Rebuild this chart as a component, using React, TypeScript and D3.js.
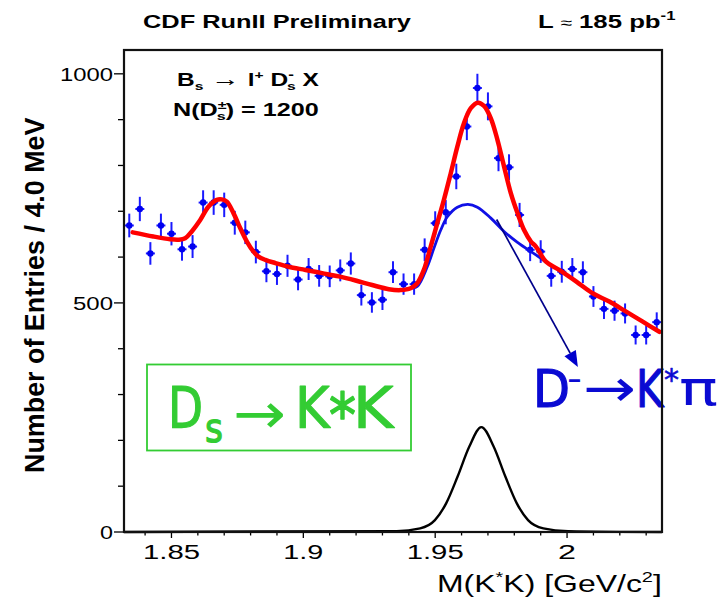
import React, { useEffect, useRef } from 'react';
import * as d3 from 'd3';

const W = 725;
const H = 598;
const FONT = "'Liberation Sans', Arial, Helvetica, sans-serif";
const HAND = "'Comic Sans MS', 'DejaVu Sans', sans-serif";

// histogram: M(K*K) bin centres (GeV/c^2), 4 MeV bins, entries per bin
const massBins = [
  1.834, 1.838, 1.842, 1.846, 1.850, 1.854, 1.858, 1.862, 1.866, 1.870,
  1.874, 1.878, 1.882, 1.886, 1.890, 1.894, 1.898, 1.902, 1.906, 1.910,
  1.914, 1.918, 1.922, 1.926, 1.930, 1.934, 1.938, 1.942, 1.946, 1.950,
  1.954, 1.958, 1.962, 1.966, 1.970, 1.974, 1.978, 1.982, 1.986, 1.990,
  1.994, 1.998, 2.002, 2.006, 2.010, 2.014, 2.018, 2.022, 2.026, 2.030,
  2.034,
];
const entries = [
  669, 705, 608, 669, 651, 617, 623, 719, 719, 714,
  675, 654, 611, 569, 563, 581, 551, 574, 559, 558,
  571, 586, 517, 501, 507, 567, 541, 541, 616, 674,
  698, 776, 885, 969, 929, 816, 796, 692, 616, 612,
  559, 568, 574, 567, 514, 487, 483, 477, 430, 430,
  458,
];

// total fit (red)
const fitMass = [
  1.8353, 1.8431, 1.8495, 1.8526, 1.8552, 1.8577, 1.8609, 1.8640, 1.8672, 1.8691,
  1.8710, 1.8735, 1.8761, 1.8786, 1.8811, 1.8830, 1.8856, 1.8894, 1.8944, 1.9008,
  1.9071, 1.9134, 1.9198, 1.9261, 1.9324, 1.9369, 1.9407, 1.9432, 1.9457, 1.9483,
  1.9508, 1.9533, 1.9559, 1.9584, 1.9609, 1.9635, 1.9662, 1.9685, 1.9711, 1.9736,
  1.9761, 1.9787, 1.9812, 1.9837, 1.9863, 1.9882, 1.9920, 1.9970, 2.0034, 2.0097,
  2.0160, 2.0224, 2.0287, 2.0350,
];
const fitValue = [
  654, 645, 639, 638, 641, 656, 681, 710, 725, 726,
  721, 696, 663, 634, 612, 601, 594, 587, 579, 572,
  565, 558, 549, 539, 530, 528, 532, 543, 572, 623,
  674, 725, 783, 841, 892, 925, 937, 930, 903, 856,
  798, 739, 696, 659, 634, 623, 590, 572, 547, 521,
  503, 481, 459, 437,
];

// D- -> K* pi reflection + background (blue)
const reflMass = [
  1.9369, 1.9407, 1.9432, 1.9470, 1.9495, 1.9521, 1.9546, 1.9584,
  1.9624, 1.9660, 1.9711, 1.9761, 1.9812, 1.9863, 1.9882, 1.9920,
];
const reflValue = [
  528, 532, 536, 579, 619, 659, 688, 709,
  715, 709, 685, 656, 632, 612, 605, 589,
];

// Ds -> K*K signal shape (black)
const sigMass = [
  1.832, 1.9354, 1.9443, 1.9499, 1.9542, 1.9585, 1.9629, 1.9675,
  1.9722, 1.9766, 1.9809, 1.9852, 1.9910, 2.0004, 2.036,
];
const sigValue = [0, 2, 8, 26, 63, 121, 186, 229, 186, 121, 63, 26, 8, 2, 0];

const xMajorTicks = [1.85, 1.9, 1.95, 2.0];
const xTickLabels = ['1.85', '1.9', '1.95', '2'];
const xMinorTicks = [1.84, 1.86, 1.87, 1.88, 1.89, 1.91, 1.92, 1.93, 1.94, 1.96, 1.97, 1.98, 1.99, 2.01, 2.02, 2.03];
const yMajorTicks = [0, 500, 1000];
const yTickLabels = ['0', '500', '1000'];
const yMinorTicks = [100, 200, 300, 400, 600, 700, 800, 900];

// arrow from the reflection curve to its label, in data coordinates
const arrowFrom = [1.9733, 682];
const arrowTo = [2.0041, 360];

type Part = { t: string; size?: number; dy?: number; dx?: number; weight?: string; family?: string };
type Opt = {
  x: number; y: number; width: number; size: number;
  anchor?: 'start' | 'middle' | 'end'; weight?: string; fill?: string; family?: string;
  rotate?: boolean; thick?: number;
};

// draw text and stretch it horizontally so it spans `width` px, like the scanned ROOT canvas
function fitText(parent: any, parts: Part[], o: Opt) {
  const g = parent.append('g');
  const t = g.append('text')
    .attr('font-family', o.family ?? FONT)
    .attr('font-size', o.size)
    .attr('font-weight', o.weight ?? 'normal')
    .attr('fill', o.fill ?? '#000');
  if (o.thick) t.attr('stroke', o.fill ?? '#000').attr('stroke-width', o.thick).attr('stroke-linejoin', 'round');
  parts.forEach(p => {
    const s = t.append('tspan').text(p.t);
    if (p.size) s.attr('font-size', p.size);
    if (p.dy) s.attr('dy', p.dy);
    if (p.dx) s.attr('dx', p.dx);
    if (p.weight) s.attr('font-weight', p.weight);
    if (p.family) s.attr('font-family', p.family);
  });
  const bb = (t.node() as SVGTextElement).getBBox();
  t.attr('x', -bb.x);
  const sx = o.width / bb.width;
  if (o.rotate) {
    g.attr('transform', `translate(${o.x},${o.y}) rotate(-90) scale(${sx},1)`);
    return;
  }
  const a = o.anchor ?? 'start';
  const x0 = a === 'start' ? o.x : a === 'end' ? o.x - o.width : o.x - o.width / 2;
  g.attr('transform', `translate(${x0},${o.y}) scale(${sx},1)`);
}

export default function App() {
  const ref = useRef<SVGSVGElement>(null);

  useEffect(() => {
    const svg = d3.select(ref.current);
    svg.selectAll('*').remove();

    const left = 124, right = 662, top = 50, bottom = 532;
    const x = d3.scaleLinear().domain([1.832, 2.036]).range([left, right]);
    const y = d3.scaleLinear().domain([0, 1052]).range([bottom, top]);

    svg.append('rect').attr('width', W).attr('height', H).attr('fill', '#fff');

    // ---- data points with sqrt(N) errors
    const pts = svg.append('g');
    massBins.forEach((m, i) => {
      const v = entries[i];
      const e = Math.sqrt(v);
      pts.append('line')
        .attr('x1', x(m)).attr('x2', x(m))
        .attr('y1', y(v - e)).attr('y2', y(v + e))
        .attr('stroke', '#1a1aff').attr('stroke-width', 2);
      pts.append('line')
        .attr('x1', x(m) - 4.5).attr('x2', x(m) + 4.5)
        .attr('y1', y(v)).attr('y2', y(v))
        .attr('stroke', '#1a1aff').attr('stroke-width', 2);
      pts.append('circle')
        .attr('cx', x(m)).attr('cy', y(v)).attr('r', 3.2)
        .attr('fill', '#0000f0');
    });

    const line = (ms: number[], vs: number[], curve: any) =>
      d3.line<number>().x((_, i) => x(ms[i])).y(d => y(d)).curve(curve)(vs);

    svg.append('path')
      .attr('d', line(sigMass, sigValue, d3.curveMonotoneX))
      .attr('fill', 'none').attr('stroke', '#000').attr('stroke-width', 2.4);

    svg.append('path')
      .attr('d', line(reflMass, reflValue, d3.curveCatmullRom))
      .attr('fill', 'none').attr('stroke', '#1010e6').attr('stroke-width', 2.8);

    svg.append('path')
      .attr('d', line(fitMass, fitValue, d3.curveCatmullRom))
      .attr('fill', 'none').attr('stroke', '#ff0000').attr('stroke-width', 4.5)
      .attr('stroke-linecap', 'round');

    // ---- arrow
    const ax1 = x(arrowFrom[0]), ay1 = y(arrowFrom[1]);
    const ax2 = x(arrowTo[0]), ay2 = y(arrowTo[1]);
    const ang = Math.atan2(ay2 - ay1, ax2 - ax1);
    const hl = 16, hw = 6.5;
    const bx = ax2 - hl * Math.cos(ang), by = ay2 - hl * Math.sin(ang);
    svg.append('line')
      .attr('x1', ax1).attr('y1', ay1).attr('x2', bx).attr('y2', by)
      .attr('stroke', '#00008b').attr('stroke-width', 1.7);
    svg.append('path')
      .attr('d', `M${ax2},${ay2}L${bx - hw * Math.sin(ang)},${by + hw * Math.cos(ang)}L${bx + hw * Math.sin(ang)},${by - hw * Math.cos(ang)}Z`)
      .attr('fill', '#0000cc');

    // ---- green label box
    const green = '#33cc33';
    svg.append('rect')
      .attr('x', 147).attr('y', 364.5).attr('width', 264).attr('height', 86)
      .attr('fill', 'none').attr('stroke', green).attr('stroke-width', 1.8);
    fitText(svg, [{ t: 'D' }], { x: 168, y: 428, width: 35, size: 57, fill: green, family: HAND, thick: 1.2 });
    fitText(svg, [{ t: 's' }], { x: 205, y: 442, width: 18, size: 40, fill: green, family: HAND, thick: 1.2 });
    fitText(svg, [{ t: '\u2192' }], { x: 233, y: 433, width: 53, size: 57, fill: green, family: HAND });
    fitText(svg, [{ t: 'K' }], { x: 295, y: 428, width: 36, size: 57, fill: green, family: HAND, thick: 1.2 });
    fitText(svg, [{ t: '*' }], { x: 329, y: 436, width: 27, size: 60, fill: green, family: HAND, thick: 1.5 });
    fitText(svg, [{ t: 'K' }], { x: 353, y: 428, width: 42, size: 57, fill: green, family: HAND, thick: 1.2 });

    // ---- blue reflection label
    const blue = '#0a0ad2';
    fitText(svg, [{ t: 'D' }], { x: 533, y: 407, width: 37, size: 52, fill: blue, family: HAND, thick: 1.2 });
    fitText(svg, [{ t: '-' }], { x: 567, y: 390, width: 15, size: 34, fill: blue, family: HAND });
    fitText(svg, [{ t: '\u2192' }], { x: 583, y: 406, width: 53, size: 52, fill: blue, family: HAND });
    fitText(svg, [{ t: 'K' }], { x: 636, y: 407, width: 29, size: 52, fill: blue, family: HAND, thick: 1.2 });
    fitText(svg, [{ t: '*' }], { x: 664, y: 390, width: 15, size: 30, fill: blue, family: HAND, thick: 0.6 });
    fitText(svg, [{ t: '\u03c0' }], { x: 679, y: 405, width: 39, size: 48, fill: blue, family: "'DejaVu Sans', sans-serif" });

    // ---- frame and ticks
    const ax = svg.append('g').attr('stroke', '#000').attr('stroke-width', 1.3);
    yMajorTicks.forEach(v => ax.append('line').attr('x1', left - 10).attr('x2', left).attr('y1', y(v)).attr('y2', y(v)));
    yMinorTicks.forEach(v => ax.append('line').attr('x1', left - 6).attr('x2', left).attr('y1', y(v)).attr('y2', y(v)));
    xMajorTicks.forEach(m => ax.append('line').attr('x1', x(m)).attr('x2', x(m)).attr('y1', bottom).attr('y2', bottom + 6));
    xMinorTicks.forEach(m => ax.append('line').attr('x1', x(m)).attr('x2', x(m)).attr('y1', bottom).attr('y2', bottom + 3.5));
    svg.append('rect')
      .attr('x', left).attr('y', top).attr('width', right - left).attr('height', bottom - top)
      .attr('fill', 'none').attr('stroke', '#111').attr('stroke-width', 2.2);

    // ---- tick labels
    yMajorTicks.forEach((v, i) => {
      const w = [13, 40, 53][i];
      fitText(svg, [{ t: yTickLabels[i] }], { x: 113, y: y(v) + 6.8, width: w, size: 19, anchor: 'end' });
    });
    xMajorTicks.forEach((m, i) => {
      const w = [57, 40, 57, 18][i];
      fitText(svg, [{ t: xTickLabels[i] }], { x: x(m), y: 559, width: w, size: 20, anchor: 'middle' });
    });

    // ---- axis titles
    fitText(svg,
      [{ t: 'M(K' }, { t: '*', size: 15, dy: -10 }, { t: 'K) [GeV/c', dy: 10 }, { t: '2', size: 15, dy: -10 }, { t: ']', dy: 10 }],
      { x: 437, y: 592, width: 225, size: 24 });
    fitText(svg, [{ t: 'Number of Entries / 4.0 MeV' }],
      { x: 44, y: 473, width: 356, size: 28, weight: 'bold', rotate: true });

    // ---- header and in-plot labels
    fitText(svg, [{ t: 'CDF RunII Preliminary' }], { x: 143, y: 28, width: 269, size: 18.5, weight: 'bold' });
    fitText(svg,
      [{ t: 'L ' }, { t: '\u2248', weight: 'normal', size: 15 }, { t: ' 185 pb' }, { t: '-1', size: 12, dy: -8 }],
      { x: 538, y: 28, width: 138, size: 18.5, weight: 'bold' });
    fitText(svg,
      [{ t: 'B' }, { t: 's', size: 11.5, dy: 4 }, { t: ' \u2192 ', dy: -4, weight: 'normal', size: 21 }, { t: 'l' },
       { t: '+', size: 11.5, dy: -7 }, { t: ' D', dy: 7 }, { t: '-', size: 12.5, dy: -7 },
       { t: 's', size: 11.5, dy: 11, dx: -5 }, { t: ' X', dy: -4 }],
      { x: 177, y: 86, width: 142, size: 18, weight: 'bold' });
    fitText(svg,
      [{ t: 'N(D' }, { t: '\u00b1', size: 11.5, dy: -7 }, { t: 's', size: 11.5, dy: 11, dx: -7 }, { t: ') = 1200', dy: -4 }],
      { x: 173, y: 116, width: 146, size: 18, weight: 'bold' });
  }, []);

  return (
    <svg ref={ref} width={W} height={H}
      style={{ position: 'absolute', left: 0, top: 0, display: 'block' }} />
  );
}
